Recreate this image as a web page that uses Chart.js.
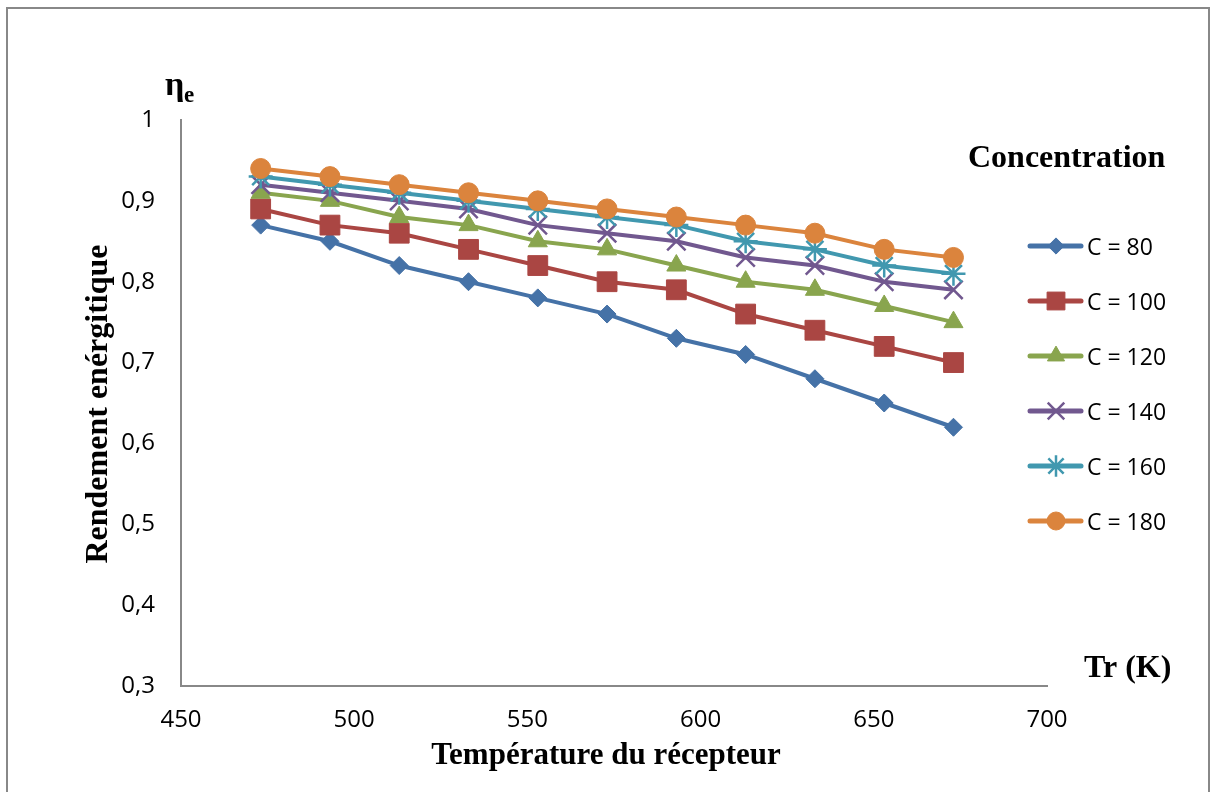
<!DOCTYPE html>
<html>
<head>
<meta charset="utf-8">
<script src="https://cdn.jsdelivr.net/npm/chart.js@4.4.1/dist/chart.umd.min.js"></script>
<style>
  html, body { margin: 0; padding: 0; background: #ffffff; }
  #chart { display: block; }
</style>
</head>
<body>
<canvas id="chart" width="1210" height="792"></canvas>
<script>
// Receiver temperature (K)
const temperatures = [473, 493, 513, 533, 553, 573, 593, 613, 633, 653, 673];

// Energy efficiency per concentration ratio
const c80 = [0.87, 0.85, 0.82, 0.80, 0.78, 0.76, 0.73, 0.71, 0.68, 0.65, 0.62];
const c100 = [0.89, 0.87, 0.86, 0.84, 0.82, 0.80, 0.79, 0.76, 0.74, 0.72, 0.70];
const c120 = [0.91, 0.90, 0.88, 0.87, 0.85, 0.84, 0.82, 0.80, 0.79, 0.77, 0.75];
const c140 = [0.92, 0.91, 0.90, 0.89, 0.87, 0.86, 0.85, 0.83, 0.82, 0.80, 0.79];
const c160 = [0.93, 0.92, 0.91, 0.90, 0.89, 0.88, 0.87, 0.85, 0.84, 0.82, 0.81];
const c180 = [0.94, 0.93, 0.92, 0.91, 0.90, 0.89, 0.88, 0.87, 0.86, 0.84, 0.83];

const seriesLabels = ['C = 80', 'C = 100', 'C = 120', 'C = 140', 'C = 160', 'C = 180'];
const seriesValues = [c80, c100, c120, c140, c160, c180];

// Axis ranges
const xMin = 450, xMax = 700, xStep = 50;
const yMin = 0.3, yMax = 1, yStep = 0.1;

const colors = ['#4572A7', '#AA4643', '#89A54E', '#71588F', '#4198AF', '#DB843D'];
const markers = [
    { style: 'rectRot', radius: 9, border: 1 },
    { style: 'rect', radius: 14, border: 1 },
    { style: 'triangle', radius: 11, border: 1 },
    { style: 'crossRot', radius: 13, border: 2.5 },
    { style: 'star', radius: 12, border: 2.5 },
    { style: 'circle', radius: 10, border: 1 }
];

const datasets = seriesValues.map(function(values, i) {
    return {
        label: seriesLabels[i],
        data: values.map(function(v, j) { return { x: temperatures[j], y: v }; }),
        borderColor: colors[i],
        backgroundColor: colors[i],
        borderWidth: 4,
        tension: 0,
        pointStyle: markers[i].style,
        pointRadius: markers[i].radius,
        pointBorderWidth: markers[i].border,
        pointBackgroundColor: colors[i],
        pointBorderColor: colors[i],
        order: seriesValues.length - i
    };
});

function drawMarker(ctx, i, x, y) {
    ctx.save();
    ctx.fillStyle = colors[i];
    ctx.strokeStyle = colors[i];
    ctx.lineWidth = markers[i].border;
    Chart.helpers.drawPoint(ctx, {
        pointStyle: markers[i].style,
        radius: markers[i].radius * 0.9,
        rotation: 0,
        borderWidth: markers[i].border
    }, x, y);
    ctx.restore();
}

// Frame, annotations and legend
const decorations = {
    id: 'decorations',
    beforeDraw: function(chart) {
        const ctx = chart.ctx;
        ctx.save();
        ctx.fillStyle = '#ffffff';
        ctx.fillRect(0, 0, chart.width, chart.height);
        ctx.restore();
    },
    afterDraw: function(chart) {
        const ctx = chart.ctx;
        ctx.save();

        // outer frame
        ctx.strokeStyle = '#888888';
        ctx.lineWidth = 2;
        ctx.strokeRect(7, 8, 1202, 800);

        ctx.fillStyle = '#000000';
        ctx.textBaseline = 'alphabetic';

        // eta_e
        ctx.textAlign = 'left';
        ctx.font = 'bold 34px "Liberation Serif"';
        ctx.fillText('\u03B7', 165, 95);
        ctx.font = 'bold 23px "Liberation Serif"';
        ctx.fillText('e', 184, 102);

        ctx.font = 'bold 32px "Liberation Serif"';
        ctx.fillText('Concentration', 968, 167);
        ctx.fillText('Tr (K)', 1084, 677);

        ctx.textAlign = 'center';
        ctx.font = 'bold 31px "Liberation Serif"';
        ctx.fillText('Temp\u00e9rature du r\u00e9cepteur', 606, 764);

        ctx.save();
        ctx.translate(107, 404);
        ctx.rotate(-Math.PI / 2);
        ctx.font = 'bold 32px "Liberation Serif"';
        ctx.fillText('Rendement en\u00e9rgitique', 0, 0);
        ctx.restore();

        // legend
        ctx.textAlign = 'left';
        ctx.font = '23px "Open Sans"';
        seriesLabels.forEach(function(label, i) {
            const rowY = 246 + i * 55;
            ctx.save();
            ctx.strokeStyle = colors[i];
            ctx.lineWidth = 5;
            ctx.lineCap = 'round';
            ctx.beginPath();
            ctx.moveTo(1030, rowY);
            ctx.lineTo(1081, rowY);
            ctx.stroke();
            ctx.restore();
            drawMarker(ctx, i, 1056, rowY);
            ctx.fillStyle = '#000000';
            ctx.fillText(label, 1087, rowY + 8.5);
        });

        ctx.restore();
    }
};

const ctx = document.getElementById('chart').getContext('2d');
const chart = new Chart(ctx, {
    type: 'line',
    data: { datasets: datasets },
    plugins: [decorations],
    options: {
        responsive: false,
        animation: false,
        devicePixelRatio: 1,
        layout: {
            padding: { left: 0, top: 120, right: 163, bottom: 0 }
        },
        plugins: {
            legend: { display: false },
            tooltip: { enabled: false }
        },
        scales: {
            x: {
                type: 'linear',
                min: xMin,
                max: xMax,
                afterFit: function(scale) { scale.height = 106; },
                ticks: {
                    stepSize: xStep,
                    padding: 20,
                    color: '#000000',
                    font: { family: 'Open Sans', size: 24 },
                    maxRotation: 0
                },
                grid: { display: false, drawTicks: false },
                border: { display: true, color: '#888888', width: 2 }
            },
            y: {
                min: yMin,
                max: yMax,
                afterFit: function(scale) { scale.width = 181; },
                ticks: {
                    stepSize: yStep,
                    padding: 26,
                    color: '#000000',
                    font: { family: 'Open Sans', size: 24 },
                    callback: function(value) {
                        return String(Math.round(value * 10) / 10).replace('.', ',');
                    }
                },
                grid: { display: false, drawTicks: false },
                border: { display: true, color: '#888888', width: 2 }
            }
        }
    }
});
</script>
</body>
</html>
